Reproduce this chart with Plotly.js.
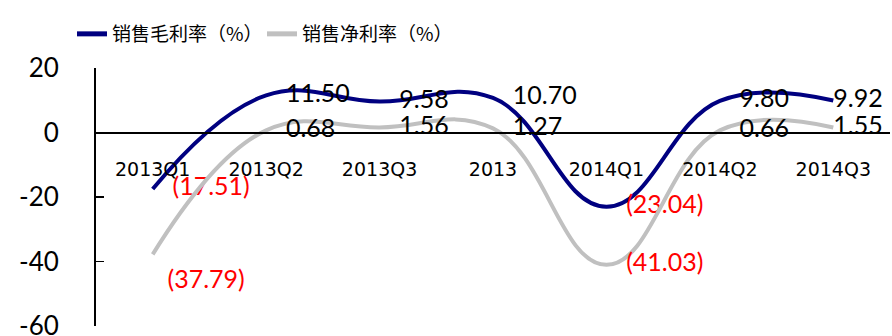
<!DOCTYPE html>
<html>
<head>
<meta charset="utf-8">
<script src="https://cdn.plot.ly/plotly-3.0.1.min.js"></script>
<style>html,body{margin:0;padding:0;background:#fff;}#chart{width:892px;height:336px;}</style>
</head>
<body>
<div id="chart"></div>
<script>
const categories = ['2013Q1', '2013Q2', '2013Q3', '2013', '2014Q1', '2014Q2', '2014Q3'];
const grossMargin = [-17.51, 11.50, 9.58, 10.70, -23.04, 9.80, 9.92];
const netMargin = [-37.79, 0.68, 1.56, 1.27, -41.03, 0.66, 1.55];
const seriesNames = ['销售毛利率（%）', '销售净利率（%）'];
const yTickVals = [-60, -40, -20, 0, 20];
const yTickText = ['-60', '-40', '-20', '0', '20'];

function labelText(v) { return v < 0 ? '(' + Math.abs(v).toFixed(2) + ')' : v.toFixed(2); }
function labelColor(v) { return v < 0 ? '#FF0000' : '#000000'; }

function makeTrace(vals, name, color, posOverride, sizeOverride) {
  const n = vals.length;
  return {
    x: categories,
    y: vals,
    name: name,
    type: 'scatter',
    mode: 'lines+markers+text',
    line: {color: color, width: 4, shape: 'spline', smoothing: 1.2},
    marker: {
      size: vals.map((v, i) => (sizeOverride && sizeOverride[i] !== undefined) ? sizeOverride[i] : (i === n - 1 ? 0 : 30)),
      color: 'rgba(0,0,0,0)', opacity: 0, line: {width: 0}
    },
    text: vals.map(labelText),
    textposition: vals.map((v, i) => (posOverride && posOverride[i]) || 'middle right'),
    textfont: {family: 'Lato, sans-serif', size: 25, color: vals.map(labelColor)},
    cliponaxis: false,
    hoverinfo: 'skip'
  };
}

const traces = [
  makeTrace(grossMargin, seriesNames[0], '#000080'),
  makeTrace(netMargin, seriesNames[1], '#C0C0C0', {0: 'bottom right'}, {0: 22})
];

const layout = {
  width: 892, height: 336,
  margin: {l: 96, r: 2, t: 68, b: 10},
  paper_bgcolor: '#fff', plot_bgcolor: '#fff',
  showlegend: true,
  legend: {
    orientation: 'h', xref: 'container', yref: 'container',
    x: 72 / 892, xanchor: 'left', y: 1 - 15 / 336, yanchor: 'top',
    font: {family: '"Noto Sans CJK SC", sans-serif', size: 19, color: '#000'},
    itemsizing: 'constant', entrywidth: 145, entrywidthmode: 'pixels'
  },
  xaxis: {
    type: 'category', range: [-0.5, 6.5],
    anchor: 'free', position: 0.75,
    showline: true, linecolor: '#000', linewidth: 2,
    ticks: '', showgrid: false, zeroline: false,
    tickfont: {family: '"DejaVu Sans", sans-serif', size: 19, color: '#000'},
    ticklabelstandoff: 20
  },
  xaxis2: {
    type: 'linear', overlaying: 'x', range: [-0.5, 6.5],
    anchor: 'free', position: 0.75,
    tickvals: [0.5, 4.5, 6.5], ticks: 'inside', ticklen: 8, tickwidth: 1.5, tickcolor: '#000',
    showticklabels: false, showline: false, showgrid: false, zeroline: false
  },
  yaxis: {
    range: [-60, 20], tickvals: yTickVals, ticktext: yTickText,
    showline: true, linecolor: '#000', linewidth: 2,
    ticks: 'inside', ticklen: 8, tickwidth: 1.5, tickcolor: '#000',
    showgrid: false, zeroline: false,
    tickfont: {family: 'Lato, sans-serif', size: 26, color: '#000'},
    ticklabelstandoff: 30, ticklabeloverflow: 'allow'
  }
};

Plotly.newPlot('chart', traces, layout, {displayModeBar: false, staticPlot: true});
</script>
</body>
</html>
